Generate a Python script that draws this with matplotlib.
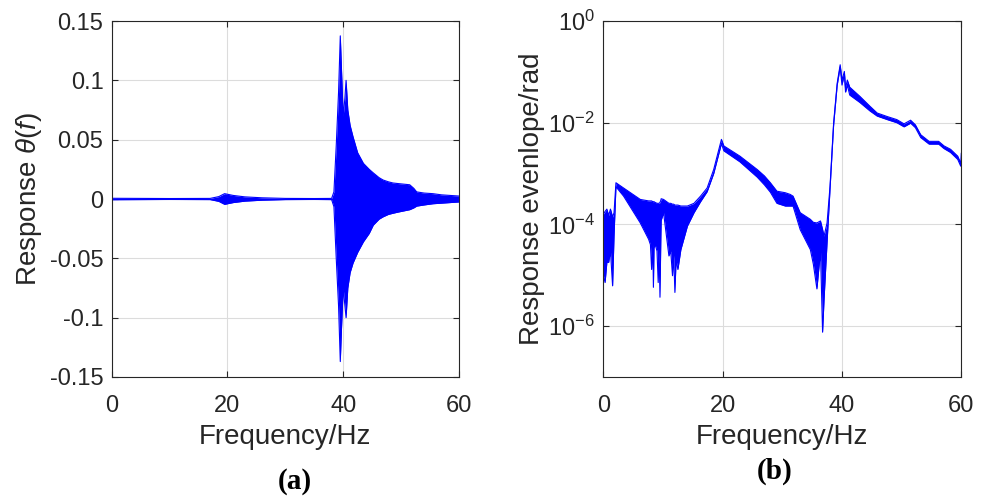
import matplotlib
matplotlib.use('Agg')
import matplotlib.pyplot as plt

plt.rcParams['font.family'] = ['Liberation Sans', 'DejaVu Sans']
plt.rcParams['mathtext.fontset'] = 'custom'
plt.rcParams['mathtext.rm'] = 'Liberation Sans'
plt.rcParams['mathtext.it'] = 'Liberation Sans:italic'

# (a) response theta(f): upper / lower envelope of the oscillation
freq_a = [0, 5, 10, 17, 18.5, 19.5, 20, 21, 23, 26, 30, 35, 38, 38.4, 38.8, 39.2,
          39.5, 39.7, 40.0, 40.3, 40.5, 40.8, 41.2, 41.7, 42.5, 43.5, 44.5, 45.2,
          46.2, 46.9, 47.8, 48.6, 49.5, 50.5, 51.5, 52.2, 52.7, 54, 55.5, 57, 58.5, 60]
upper_a = [0.0006, 0.0005, 0.0004, 0.0005, 0.002, 0.0045, 0.004, 0.003, 0.0018, 0.001,
           0.0005, 0.0004, 0.0005, 0.006, 0.045, 0.09, 0.1375, 0.11, 0.07, 0.085, 0.1,
           0.075, 0.062, 0.0525, 0.039, 0.030, 0.025, 0.022, 0.018, 0.016, 0.0145,
           0.0135, 0.013, 0.0125, 0.012, 0.009, 0.006, 0.005, 0.0045, 0.0035, 0.003, 0.0025]
lower_a = [-0.0006, -0.0005, -0.0004, -0.0005, -0.002, -0.0045, -0.004, -0.003, -0.0018,
           -0.001, -0.0005, -0.0004, -0.0005, -0.0065, -0.05, -0.09, -0.137, -0.11,
           -0.075, -0.09, -0.1, -0.075, -0.062, -0.054, -0.045, -0.036, -0.029, -0.022,
           -0.017, -0.015, -0.013, -0.012, -0.011, -0.010, -0.009, -0.0075, -0.006,
           -0.005, -0.004, -0.0035, -0.003, -0.0025]

# (b) response envelope (log scale): upper / lower edge of the trace
freq_b = [0.0, 0.02, 0.3, 0.6, 0.9, 1.2, 1.56, 1.8, 2.12, 3.4, 6.2, 7.6, 7.9, 8.1, 8.3,
          8.4, 8.5, 8.7, 9.0, 9.2, 9.35, 9.5, 9.65, 9.7, 10.1, 11.0, 11.3, 11.6, 11.8,
          12.0, 12.2, 12.5, 13.0, 14.1, 15.2, 16.3, 17.4, 18.5, 19.8, 20.2, 22.9, 25.8,
          27.0, 28.0, 29.1, 30.5, 31.3, 31.8, 33.0, 34.7, 35.2, 35.8, 36.4, 36.75, 37.0,
          37.5, 38.0, 38.6, 39.2, 39.7, 40.0, 40.4, 40.6, 40.9, 41.3, 43.0, 44.7, 45.9,
          47.6, 49.2, 50.4, 51.5, 52.3, 53.2, 54.6, 56.2, 57.1, 58.2, 59.4, 59.9, 60.0]
upper_b = [3.7e-3, 1.6e-4, 1.8e-4, 2.0e-4, 1.5e-4, 2.0e-4, 1.4e-4, 1.7e-4, 6.6e-4,
           5.2e-4, 3.1e-4, 2.9e-4, 2.9e-4, 2.9e-4, 2.8e-4, 2.8e-4, 2.8e-4, 2.7e-4,
           2.6e-4, 2.6e-4, 2.6e-4, 2.7e-4, 3.0e-4, 3.2e-4, 3.1e-4, 2.6e-4, 2.6e-4,
           2.5e-4, 2.5e-4, 2.4e-4, 2.4e-4, 2.4e-4, 2.3e-4, 2.3e-4, 2.6e-4, 3.6e-4,
           5.2e-4, 1.2e-3, 4.7e-3, 3.5e-3, 2.2e-3, 1.2e-3, 9.0e-4, 6.6e-4, 4.5e-4,
           4.2e-4, 3.9e-4, 3.6e-4, 1.7e-4, 1.26e-4, 1.1e-4, 1.07e-4, 1.17e-4, 8.0e-5,
           5.9e-5, 1.07e-4, 5.6e-4, 9.8e-3, 6.0e-2, 0.138, 0.069, 0.102, 0.048, 0.069,
           0.05, 0.033, 0.021, 0.0155, 0.0132, 0.0115, 0.0095, 0.0112, 0.0091, 0.0058,
           0.0043, 0.0043, 0.0035, 0.0030, 0.0022, 0.0016, 0.0025]
lower_b = [2.5e-6, 1.0e-5, 7.2e-6, 1.8e-5, 1.8e-5, 3.0e-5, 6.2e-6, 6.0e-5, 5.5e-4,
           3.6e-4, 1.07e-4, 5.1e-5, 4.0e-5, 1.3e-5, 4.0e-5, 5.8e-6, 3.5e-5, 4.0e-5,
           3.0e-5, 7.2e-6, 3.0e-5, 3.7e-6, 6.0e-5, 1.2e-4, 1.7e-4, 2.4e-5, 3.0e-5,
           9.8e-6, 2.5e-5, 4.6e-6, 2.0e-5, 1.3e-5, 3.2e-5, 9.3e-5, 1.7e-4, 2.8e-4,
           4.4e-4, 1.0e-3, 3.9e-3, 2.8e-3, 1.7e-3, 8.5e-4, 6.0e-4, 4.3e-4, 2.6e-4,
           2.3e-4, 2.3e-4, 2.3e-4, 7.9e-5, 3.2e-5, 1.66e-5, 5.4e-6, 3.0e-5, 7.6e-7,
           3.4e-6, 4.4e-5, 5.0e-4, 9.0e-3, 5.5e-2, 0.125, 0.055, 0.09, 0.040, 0.055,
           0.035, 0.025, 0.017, 0.0135, 0.0115, 0.0100, 0.0083, 0.0098, 0.0080, 0.0051,
           0.0038, 0.0038, 0.0031, 0.0026, 0.0019, 0.0014, 0.0016]

x_ticks = [0, 20, 40, 60]
ya_ticks = [-0.15, -0.1, -0.05, 0, 0.05, 0.1, 0.15]
ya_labels = ['-0.15', '-0.1', '-0.05', '0', '0.05', '0.1', '0.15']
yb_ticks = [1e-6, 1e-4, 1e-2, 1e0]

dark = '#262626'
fig = plt.figure(figsize=(9.89, 4.99), dpi=100)
ax1 = fig.add_axes([0.113, 0.2445, 0.351, 0.7134])
ax2 = fig.add_axes([0.610, 0.2445, 0.362, 0.7134])

# panel (a)
ax1.fill_between(freq_a, lower_a, upper_a, color='blue', lw=0)
ax1.plot(freq_a, upper_a, color='blue', lw=0.8)
ax1.plot(freq_a, lower_a, color='blue', lw=0.8)
ax1.set_xlim(0, 60)
ax1.set_ylim(-0.15, 0.15)
ax1.set_yticks(ya_ticks)
ax1.set_yticklabels(ya_labels)
ax1.set_ylabel(r'Response $\it{\theta(f)}$', fontsize=20, color=dark, labelpad=4)

# panel (b)
ax2.fill_between(freq_b, lower_b, upper_b, color='blue', lw=0)
ax2.plot(freq_b, upper_b, color='blue', lw=0.8)
ax2.plot(freq_b, lower_b, color='blue', lw=0.8)
ax2.set_yscale('log')
ax2.set_xlim(0, 60)
ax2.set_ylim(1e-7, 1e0)
ax2.set_yticks(yb_ticks)
ax2.minorticks_off()
ax2.set_ylabel('Response evenlope/rad', fontsize=20, color=dark, labelpad=2)

for ax in (ax1, ax2):
    ax.set_xticks(x_ticks)
    ax.set_xlabel('Frequency/Hz', fontsize=20, color=dark, labelpad=5)
    ax.grid(True, color='#dcdcdc', lw=0.8)
    ax.set_axisbelow(True)
    ax.tick_params(direction='in', length=4, width=0.8, top=True, right=True,
                   labelsize=17, colors=dark)
    ax.tick_params(axis='x', pad=13)
    ax.tick_params(axis='y', pad=6)
    for s in ax.spines.values():
        s.set_color(dark)
        s.set_linewidth(0.8)

fig.text(0.298, 0.036, '(a)', fontsize=21, fontweight='bold',
         family='Liberation Serif', ha='center', va='center')
fig.text(0.783, 0.056, '(b)', fontsize=21, fontweight='bold',
         family='Liberation Serif', ha='center', va='center')

fig.savefig('out.png', dpi=100)
